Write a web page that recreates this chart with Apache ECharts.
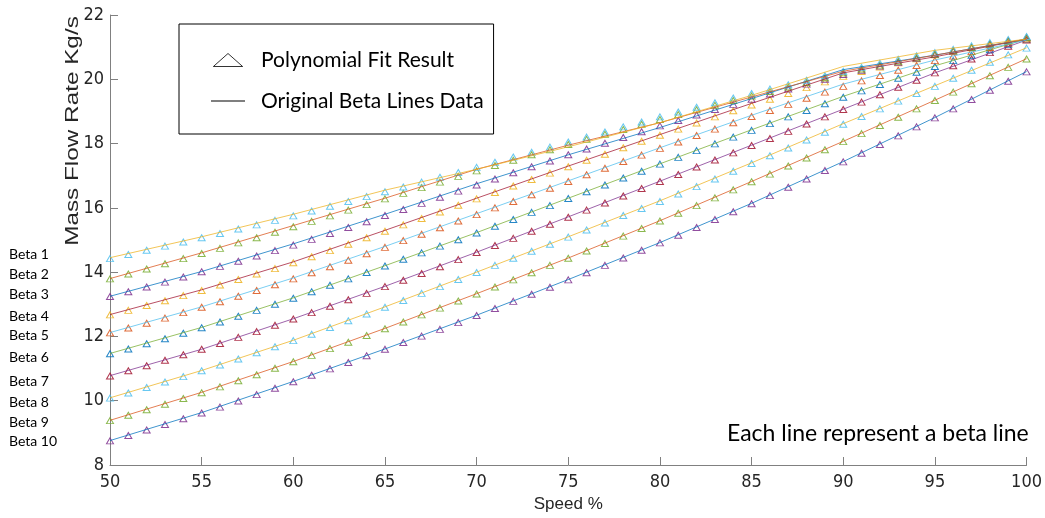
<!DOCTYPE html>
<html>
<head>
<meta charset="utf-8">
<title>Beta lines</title>
<script src="https://cdn.jsdelivr.net/npm/echarts@6/dist/echarts.min.js"></script>
<style>
	html,body{margin:0;padding:0;background:#fff;}
	#main{width:1045px;height:518px;}
</style>
</head>
<body>
<div id="main"></div>
<script>
// speed points of the original beta lines and of the polynomial fit
var speedLine = [50,55,60,65,70,75,80,85,90,95,100];
var speedFit = [50,51,52,53,54,55,56,57,58,59,60,61,62,63,64,65,66,67,68,69,70,71,72,73,74,75,76,77,78,79,80,81,82,83,84,85,86,87,88,89,90,91,92,93,94,95,96,97,98,99,100];

var betaNames = ['Beta 1','Beta 2','Beta 3','Beta 4','Beta 5','Beta 6','Beta 7','Beta 8','Beta 9','Beta 10'];

// original beta lines data (Kg/s)
var lineBeta1 = [14.45,15.10,15.80,16.55,17.20,17.90,18.65,19.50,20.40,20.90,21.25];
var lineBeta2 = [13.80,14.60,15.45,16.30,17.20,17.95,18.65,19.45,20.25,20.75,21.25];
var lineBeta3 = [13.25,14.02,14.88,15.80,16.75,17.65,18.50,19.40,20.30,20.75,21.25];
var lineBeta4 = [12.68,13.45,14.32,15.30,16.30,17.30,18.28,19.25,20.20,20.70,21.25];
var lineBeta5 = [12.12,12.92,13.82,14.80,15.82,16.84,17.87,18.88,19.85,20.60,21.22];
var lineBeta6 = [11.47,12.28,13.20,14.20,15.23,16.30,17.37,18.43,19.47,20.42,21.25];
var lineBeta7 = [10.78,11.60,12.55,13.56,14.62,15.72,16.83,17.95,19.07,20.20,21.22];
var lineBeta8 = [10.09,10.94,11.88,12.92,14.00,15.10,16.22,17.40,18.62,19.80,20.98];
var lineBeta9 = [9.39,10.26,11.22,12.25,13.33,14.44,15.60,16.82,18.07,19.35,20.64];
var lineBeta10 = [8.76,9.63,10.60,11.61,12.66,13.77,14.92,16.14,17.44,18.81,20.24];

// polynomial fit result (Kg/s)
var fitBeta1 = [14.42,14.55,14.68,14.81,14.94,15.07,15.20,15.34,15.47,15.61,15.75,15.90,16.05,16.20,16.35,16.50,16.65,16.80,16.95,17.10,17.26,17.42,17.58,17.73,17.89,18.05,18.20,18.36,18.52,18.67,18.83,18.98,19.13,19.27,19.42,19.56,19.70,19.83,19.97,20.11,20.25,20.37,20.50,20.62,20.73,20.83,20.93,21.04,21.14,21.24,21.33];
var fitBeta2 = [13.79,13.94,14.10,14.26,14.42,14.58,14.74,14.91,15.07,15.24,15.41,15.58,15.75,15.93,16.10,16.28,16.45,16.63,16.80,16.98,17.15,17.32,17.48,17.65,17.81,17.97,18.13,18.29,18.44,18.60,18.75,18.90,19.05,19.19,19.34,19.48,19.62,19.76,19.90,20.05,20.20,20.32,20.44,20.56,20.67,20.78,20.89,20.99,21.10,21.20,21.30];
var fitBeta3 = [13.24,13.39,13.54,13.69,13.85,14.01,14.18,14.34,14.50,14.67,14.84,15.02,15.20,15.39,15.57,15.76,15.95,16.14,16.33,16.52,16.71,16.90,17.09,17.28,17.46,17.65,17.83,18.01,18.19,18.37,18.55,18.72,18.89,19.06,19.22,19.38,19.54,19.70,19.85,20.00,20.15,20.28,20.41,20.53,20.65,20.77,20.88,20.99,21.10,21.20,21.30];
var fitBeta4 = [12.67,12.81,12.96,13.11,13.27,13.43,13.60,13.77,13.94,14.11,14.29,14.48,14.67,14.87,15.07,15.27,15.47,15.67,15.87,16.08,16.28,16.48,16.68,16.88,17.08,17.28,17.48,17.67,17.87,18.07,18.26,18.45,18.64,18.83,19.02,19.20,19.38,19.56,19.74,19.92,20.09,20.24,20.38,20.51,20.64,20.76,20.87,20.98,21.08,21.18,21.28];
var fitBeta5 = [12.11,12.26,12.41,12.57,12.74,12.91,13.08,13.25,13.43,13.61,13.79,13.98,14.17,14.37,14.57,14.77,14.98,15.18,15.38,15.59,15.79,16.00,16.20,16.41,16.61,16.82,17.03,17.23,17.44,17.64,17.85,18.05,18.25,18.45,18.65,18.84,19.03,19.22,19.41,19.60,19.78,19.95,20.12,20.28,20.43,20.58,20.72,20.86,20.99,21.12,21.25];
var fitBeta6 = [11.46,11.61,11.77,11.93,12.10,12.27,12.45,12.63,12.81,13.00,13.19,13.39,13.59,13.79,13.99,14.19,14.40,14.60,14.81,15.01,15.22,15.43,15.64,15.86,16.07,16.29,16.50,16.71,16.93,17.14,17.36,17.57,17.78,17.99,18.20,18.41,18.62,18.83,19.03,19.24,19.44,19.64,19.84,20.03,20.22,20.40,20.58,20.75,20.92,21.09,21.25];
var fitBeta7 = [10.77,10.93,11.09,11.26,11.43,11.60,11.78,11.97,12.15,12.35,12.54,12.74,12.94,13.14,13.34,13.55,13.75,13.96,14.17,14.39,14.61,14.83,15.05,15.27,15.49,15.71,15.93,16.15,16.37,16.60,16.82,17.04,17.27,17.49,17.71,17.94,18.16,18.38,18.61,18.83,19.06,19.29,19.52,19.75,19.97,20.20,20.42,20.63,20.83,21.03,21.22];
var fitBeta8 = [10.08,10.24,10.41,10.58,10.75,10.93,11.11,11.30,11.49,11.68,11.87,12.07,12.28,12.49,12.70,12.91,13.12,13.34,13.55,13.77,13.99,14.21,14.43,14.65,14.87,15.09,15.31,15.53,15.76,15.98,16.20,16.43,16.66,16.90,17.14,17.38,17.62,17.86,18.11,18.35,18.60,18.84,19.08,19.32,19.56,19.78,20.03,20.28,20.53,20.76,20.97];
var fitBeta9 = [9.38,9.55,9.72,9.89,10.07,10.25,10.43,10.62,10.81,11.01,11.21,11.41,11.62,11.82,12.03,12.24,12.45,12.67,12.88,13.10,13.32,13.54,13.76,13.98,14.21,14.43,14.66,14.89,15.12,15.36,15.59,15.83,16.07,16.31,16.56,16.81,17.05,17.30,17.55,17.81,18.06,18.31,18.56,18.82,19.08,19.34,19.60,19.86,20.11,20.37,20.63];
var fitBeta10 = [8.75,8.92,9.09,9.26,9.44,9.62,9.80,9.99,10.19,10.39,10.59,10.79,10.99,11.19,11.40,11.60,11.81,12.01,12.22,12.43,12.65,12.87,13.09,13.31,13.53,13.76,13.98,14.21,14.44,14.68,14.91,15.15,15.39,15.64,15.88,16.13,16.38,16.64,16.90,17.16,17.43,17.70,17.97,18.24,18.52,18.80,19.08,19.37,19.66,19.94,20.23];

var BetaChart = {
	lineData : [lineBeta1,lineBeta2,lineBeta3,lineBeta4,lineBeta5,lineBeta6,lineBeta7,lineBeta8,lineBeta9,lineBeta10],
	fitData : [fitBeta1,fitBeta2,fitBeta3,fitBeta4,fitBeta5,fitBeta6,fitBeta7,fitBeta8,fitBeta9,fitBeta10],
	// matlab colour order, lines and fit markers are shifted by three
	lineColor : ['#EDB120','#D95319','#0072BD','#A2142F','#4DBEEE','#77AC30','#7E2F8E','#EDB120','#D95319','#0072BD'],
	fitColor : ['#4DBEEE','#77AC30','#7E2F8E','#EDB120','#D95319','#0072BD','#A2142F','#4DBEEE','#77AC30','#7E2F8E'],
	labelY : [255,275,295,317,336,358,382,403,423,442],
	tickFont : "'Liberation Sans Narrow','DejaVu Sans Condensed',sans-serif",
	noteFont : "Lato,'Open Sans',sans-serif",

	pairs:function(xs, ys){
		var out = [];
		for (var i = 0; i < xs.length; i++) {
			out.push([xs[i], ys[i]]);
		}
		return out;
	},

	buildSeries:function(){
		var series = [];
		// lines first, Beta 10 at the bottom of the stack
		for (var i = this.lineData.length - 1; i >= 0; i--) {
			series.push({
				name : betaNames[i],
				type : 'line',
				data : this.pairs(speedLine, this.lineData[i]),
				symbol : 'none',
				silent : true,
				lineStyle : {
					color : this.lineColor[i],
					width : 1,
					opacity : 0.75
				}
			});
		}
		for (var j = this.fitData.length - 1; j >= 0; j--) {
			series.push({
				name : betaNames[j] + ' fit',
				type : 'scatter',
				data : this.pairs(speedFit, this.fitData[j]),
				symbol : 'triangle',
				symbolSize : [7,6],
				silent : true,
				itemStyle : {
					color : 'transparent',
					borderColor : this.fitColor[j],
					borderWidth : 1,
					opacity : 0.85
				}
			});
		}
		// only there for the legend box
		series.push({
			name : 'Polynomial Fit Result',
			type : 'scatter',
			data : [],
			symbol : 'triangle',
			itemStyle : {color : 'transparent', borderColor : '#000', borderWidth : 1}
		});
		series.push({
			name : 'Original Beta Lines Data',
			type : 'line',
			data : [],
			symbol : 'none',
			itemStyle : {color : '#000'},
			lineStyle : {color : '#000', width : 1}
		});
		return series;
	},

	buildGraphic:function(){
		var g = [];
		for (var i = 0; i < betaNames.length; i++) {
			g.push({
				type : 'text',
				left : 9,
				top : this.labelY[i] - 8,
				style : {
					text : betaNames[i],
					font : '14px ' + this.noteFont,
					fill : '#000'
				}
			});
		}
		// the y name is stretched along the axis in the original figure
		g.push({
			type : 'text',
			x : 73,
			y : 131,
			rotation : Math.PI / 2,
			scaleX : 1.35,
			style : {
				text : 'Mass Flow Rate Kg/s',
				font : "18px 'Liberation Sans',Arial,sans-serif",
				fill : '#262626',
				align : 'center',
				verticalAlign : 'middle'
			}
		});
		g.push({
			type : 'text',
			left : 727,
			top : 422,
			style : {
				text : 'Each line represent a beta line',
				font : '23px ' + this.noteFont,
				fill : '#000'
			}
		});
		return g;
	},

	chartOption:function(){
		var axisColor = '#808080';
		var option = {
			backgroundColor : '#fff',
			animation : false,
			grid : {left : 110, right : 18, top : 15, bottom : 50},
			legend : {
				data : [
					{name : 'Polynomial Fit Result', icon : 'path://M0 12 L13.5 0 L27 12 Z',
						itemStyle : {color : 'transparent', borderColor : '#000', borderWidth : 1}},
					{name : 'Original Beta Lines Data', icon : 'path://M0 0 L34 0 L34 1 L0 1 Z',
						itemStyle : {color : '#000', borderWidth : 0}}
				],
				orient : 'vertical',
				left : 179,
				top : 24,
				padding : [25, 10, 22, 32],
				itemWidth : 34,
				itemHeight : 13,
				itemGap : 19,
				backgroundColor : '#fff',
				borderColor : '#000',
				borderWidth : 1,
				borderRadius : 0,
				selectedMode : false,
				textStyle : {
					fontFamily : this.noteFont,
					fontSize : 21,
					lineHeight : 22,
					color : '#000',
					padding : [0, 0, 0, 11]
				}
			},
			xAxis : {
				type : 'value',
				min : 50,
				max : 100,
				interval : 5,
				name : 'Speed %',
				nameLocation : 'middle',
				nameGap : 31,
				nameTextStyle : {fontFamily : "'Liberation Sans',Arial,sans-serif", fontSize : 17, color : '#262626'},
				axisLine : {show : true, lineStyle : {color : axisColor, width : 1}},
				axisTick : {show : true, inside : true, length : 8, lineStyle : {color : axisColor}},
				axisLabel : {margin : 8, fontFamily : this.tickFont, fontSize : 18, color : '#262626'},
				splitLine : {show : false}
			},
			yAxis : {
				type : 'value',
				min : 8,
				max : 22,
				interval : 2,
				axisLine : {show : true, lineStyle : {color : axisColor, width : 1}},
				axisTick : {show : true, inside : true, length : 8, lineStyle : {color : axisColor}},
				axisLabel : {margin : 6, fontFamily : this.tickFont, fontSize : 18, color : '#262626'},
				splitLine : {show : false}
			},
			series : this.buildSeries(),
			graphic : this.buildGraphic()
		};
		return option;
	},

	init:function(){
		var myChart = echarts.init(document.getElementById('main'), null, {renderer : 'canvas'});
		myChart.setOption(BetaChart.chartOption(), true);
	}
};

window.onload = function(){
	BetaChart.init();
};
</script>
</body>
</html>
